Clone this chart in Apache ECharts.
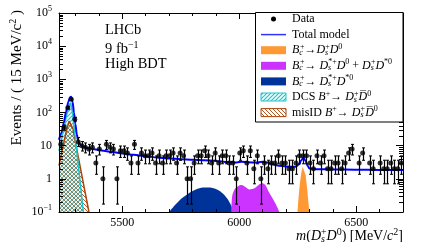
<!DOCTYPE html>
<html><head><meta charset="utf-8">
<script src="https://cdn.jsdelivr.net/npm/echarts@6/dist/echarts.min.js"></script>
<style>html,body{margin:0;padding:0;background:#fff}#c{width:425px;height:242px}</style>
</head><body><div id="c"></div>
<script>
// ---------- data ----------
const binCenters = [5237.5,5252.5,5267.5,5282.5,5297.5,5312.5,5327.5,5342.5,5357.5,5372.5,
5387.5,5402.5,5417.5,5432.5,5447.5,5462.5,5477.5,5492.5,5507.5,5522.5,
5537.5,5552.5,5567.5,5582.5,5597.5,5612.5,5627.5,5642.5,5657.5,5672.5,
5687.5,5702.5,5717.5,5732.5,5747.5,5762.5,5777.5,5792.5,5807.5,5822.5,
5837.5,5852.5,5867.5,5882.5,5897.5,5912.5,5927.5,5942.5,5957.5,5972.5,
5987.5,6002.5,6017.5,6032.5,6047.5,6062.5,6077.5,6092.5,6107.5,6122.5,
6137.5,6152.5,6167.5,6182.5,6197.5,6212.5,6227.5,6242.5,6257.5,6272.5,
6287.5,6302.5,6317.5,6332.5,6347.5,6362.5,6377.5,6392.5,6407.5,6422.5,
6437.5,6452.5,6467.5,6482.5,6497.5,6512.5,6527.5,6542.5,6557.5,6572.5,
6587.5,6602.5,6617.5,6632.5,6647.5,6662.5,6677.5,6692.5];
const counts = [11,35,140,250,63,13,10,9,8,9,
 3,8,1,11,9,8,1,7,7,6,
 3,11,3,6,5,5,6,3,5,3,
 5,5,6,3,6,5,1,1,3,5,
 5,7,5,3,6,3,5,5,3,3,
 1,6,7,3,7,2,5,1,3,2,
 3,3,5,3,3,2,2,3,5,5,
 5,3,2,5,3,5,2,2,3,3,
 2,3,6,8,0,3,6,0,3,2,
 0,3,2,2,3,2,2,3];
// Poisson 68% interval bounds for small counts
const poissonLo = [0,0.173,0.708,1.37,2.09,2.84,3.62,4.42,5.23,6.06,6.89,7.73,8.58];
const poissonHi = [1.15,2.30,3.64,4.91,6.17,7.38,8.58,9.77,10.94,12.1,13.3,14.4,15.6];

const totalModel = [[5230,15],[5240,24],[5250,48],[5260,105],[5270,210],[5277,290],[5282,300],[5288,210],[5294,100],[5300,45],[5306,22],[5312,14],[5320,11],[5330,9.5],[5350,8.5],[5380,7.8],[5420,7.0],[5460,6.4],[5500,5.8],[5550,5.3],[5600,4.8],[5650,4.4],[5700,4.1],[5750,3.9],[5800,3.75],[5850,3.65],[5900,3.45],[5950,3.2],[5990,3.1],[6010,3.3],[6040,3.15],[6070,3.1],[6100,3.25],[6120,3.1],[6140,2.75],[6170,2.5],[6200,2.35],[6240,2.3],[6255,2.7],[6265,3.6],[6274,4.3],[6283,3.6],[6292,2.5],[6300,2.05],[6330,1.95],[6400,1.92],[6500,1.88],[6600,1.86],[6700,1.85]];
const dsstDst = [[5700,0.1],[5725,0.16],[5755,0.26],[5785,0.37],[5815,0.48],[5845,0.55],[5875,0.55],[5905,0.48],[5930,0.36],[5955,0.22],[5978,0.1]];
const dsstD = [[5966,0.1],[5970,0.3],[5980,0.48],[5995,0.6],[6010,0.65],[6025,0.58],[6045,0.48],[6065,0.52],[6085,0.68],[6100,0.74],[6112,0.65],[6125,0.42],[6140,0.28],[6155,0.18],[6172,0.1]];
const dsD = [[6249,0.1],[6254,0.3],[6260,0.8],[6266,1.6],[6271,2.3],[6275,2.4],[6279,2.1],[6284,1.3],[6290,0.55],[6295,0.22],[6300,0.1]];
const dcs = [[5230,7],[5245,22],[5260,70],[5272,160],[5280,200],[5287,105],[5295,35],[5305,8],[5315,1.8],[5325,0.4],[5334,0.1]];
const misid = [[5230,2.5],[5245,8],[5260,25],[5273,55],[5281,62],[5290,32],[5300,13],[5320,2.4],[5340,0.45],[5358,0.1]];

const xMajorTicks = [5500,6000,6500];
const xMinorTicks = [5300,5400,5600,5700,5800,5900,6100,6200,6300,6400,6600,6700];
const yDecades = [0.1,1,10,100,1000,10000,100000];
const yMinorMult = [2,3,4,5,6,7,8,9];

// ---------- helpers ----------
const F = "'Liberation Serif','Times New Roman',serif";
function hatch(color, dir, w) {
  const c = document.createElement('canvas'); c.width = 4; c.height = 4;
  const g = c.getContext('2d'); g.strokeStyle = color; g.lineWidth = w;
  g.beginPath();
  if (dir > 0) { g.moveTo(-1,5); g.lineTo(5,-1); g.moveTo(-3,3); g.lineTo(3,-3); g.moveTo(1,7); g.lineTo(7,1); }
  else { g.moveTo(-1,-1); g.lineTo(5,5); g.moveTo(-3,1); g.lineTo(3,7); g.moveTo(1,-3); g.lineTo(7,3); }
  g.stroke(); return c;
}
const cyan = '#1cc6cc', brown = '#a8440c';
const cyanPat = {image: hatch(cyan, 1, 1.2), repeat: 'repeat'};
const brownPat = {image: hatch(brown, -1, 0.9), repeat: 'repeat'};

const points = [], bars = [];
binCenters.forEach((m, i) => {
  const n = counts[i];
  if (n <= 0) return;
  points.push([m, n]);
  const lo = n < poissonLo.length ? poissonLo[n] : n - Math.sqrt(n);
  const hi = n < poissonHi.length ? poissonHi[n] : n + Math.sqrt(n) + 1;
  bars.push([m, lo, hi]);
});
const yMinor = [];
yDecades.slice(0, -1).forEach(d => yMinorMult.forEach(k => yMinor.push([5230, d * k])));

const rich = {
  n: {fontFamily: F, fontSize: 12, color: '#000'},
  i: {fontFamily: F, fontSize: 12, fontStyle: 'italic', color: '#000'},
  sb: {fontFamily: F, fontSize: 8, fontStyle: 'italic', color: '#000', padding: [5, -3, 0, 0]},
  sp: {fontFamily: F, fontSize: 8, color: '#000', padding: [0, 0, 7, 0]}
};
const richBig = {
  n: {fontFamily: F, fontSize: 14, color: '#000'},
  i: {fontFamily: F, fontSize: 14, fontStyle: 'italic', color: '#000'},
  sb: {fontFamily: F, fontSize: 10, fontStyle: 'italic', color: '#000', padding: [6, -4, 0, 0]},
  sp: {fontFamily: F, fontSize: 10, color: '#000', padding: [0, 0, 8, 0]}
};
const richY = {
  n: {fontFamily: F, fontSize: 15, color: '#000'},
  sp: {fontFamily: F, fontSize: 10, color: '#000', padding: [0, 0, 8, 0]}
};

const legendRows = [19, 34.6, 50.2, 65.8, 81.4, 97, 112.6];
const legendTexts = [
  '{n|Data}',
  '{n|Total model}',
  '{i|B}{sb|c}{sp|+}{n|→}{i|D}{sb|s}{sp|+}{i|D}{sp|0}',
  '{i|B}{sb|c}{sp|+}{n|→ }{i|D}{sb|s}{sp|*+}{i|D}{sp|0}{n| + }{i|D}{sb|s}{sp|+}{i|D}{sp|*0}',
  '{i|B}{sb|c}{sp|+}{n|→ }{i|D}{sb|s}{sp|*+}{i|D}{sp|*0}',
  '{n|DCS }{i|B}{sp|+}{n|→ }{i|D}{sb|s}{sp|+}{i|D\u0305}{sp|0}',
  '{n|misID }{i|B}{sp|+}{n|→ }{i|D}{sb|s}{sp|+}{i|D\u0305}{sp|0}'
];
const swatches = [null, null, {fill: '#ff9933'}, {fill: '#cc33ff'}, {fill: '#003399'},
  {fill: cyanPat, stroke: cyan}, {fill: brownPat, stroke: brown}];

const graphics = [
  {type: 'rect', shape: {x: 255.5, y: 12.5, width: 147.5, height: 109.5}, style: {fill: '#fff', stroke: '#000', lineWidth: 1}, z: 20},
  {type: 'circle', shape: {cx: 273.5, cy: legendRows[0], r: 2.5}, style: {fill: '#000'}, z: 21},
  {type: 'line', shape: {x1: 261, y1: legendRows[1], x2: 286, y2: legendRows[1]}, style: {stroke: '#3333ff', lineWidth: 1.5}, z: 21},
  {type: 'text', left: 105, top: 23, style: {text: 'LHCb', fontFamily: F, fontSize: 14.5, fill: '#000'}, z: 21},
  {type: 'text', left: 105, top: 40, style: {text: '{a|9 fb}{s|−1}', rich: {a: {fontFamily: F, fontSize: 14.5, color: '#000'}, s: {fontFamily: F, fontSize: 10, color: '#000', padding: [0, 0, 9, 0]}}}, z: 21},
  {type: 'text', left: 105, top: 57, style: {text: 'High BDT', fontFamily: F, fontSize: 14.5, fill: '#000'}, z: 21},
  {type: 'text', x: 403, y: 236, style: {text: '{i|m}{n|(}{i|D}{sb|s}{sp|+}{i|D}{sp|0}{n|) [MeV/}{i|c}{sp|2}{n|]}', rich: richBig, align: 'right', verticalAlign: 'middle'}, z: 21},
  {type: 'text', x: 17, y: 10, rotation: Math.PI / 2, style: {text: '{n|Events / ( 15 MeV/c}{sp|2}{n| )}', rich: richY, align: 'right', verticalAlign: 'middle'}, z: 21}
];
legendRows.forEach((y, i) => {
  const sw = swatches[i];
  if (sw) graphics.push({type: 'rect', shape: {x: 261, y: y - 4, width: 25, height: 8},
    style: {fill: sw.fill, stroke: sw.stroke || null, lineWidth: 1}, z: 21});
  graphics.push({type: 'text', x: 292, y: y, style: {text: legendTexts[i], rich: rich, verticalAlign: 'middle', align: 'left'}, z: 21});
});

const axisBase = {type: 'value', min: 5230, max: 6700, splitLine: {show: false}, z: 10};
const yBase = {type: 'log', logBase: 10, min: 0.1, max: 100000, splitNumber: 6, splitLine: {show: false}, z: 10};

const option = {
  animation: false,
  backgroundColor: '#fff',
  grid: {left: 59, right: 22, top: 13, bottom: 30, containLabel: false},
  xAxis: [
    Object.assign({}, axisBase, {position: 'bottom', axisLine: {lineStyle: {color: '#000', width: 1}},
      axisTick: {inside: true, length: 6, customValues: xMajorTicks, lineStyle: {color: '#000'}},
      axisLabel: {customValues: xMajorTicks, fontFamily: F, fontSize: 12, color: '#000', margin: 5, formatter: v => String(v)}}),
    Object.assign({}, axisBase, {position: 'bottom', axisLine: {show: false},
      axisTick: {inside: true, length: 3, customValues: xMinorTicks, lineStyle: {color: '#000'}}, axisLabel: {show: false}}),
    Object.assign({}, axisBase, {position: 'top', axisLine: {lineStyle: {color: '#000', width: 1}},
      axisTick: {inside: true, length: 6, customValues: xMajorTicks, lineStyle: {color: '#000'}}, axisLabel: {show: false}}),
    Object.assign({}, axisBase, {position: 'top', axisLine: {show: false},
      axisTick: {inside: true, length: 3, customValues: xMinorTicks, lineStyle: {color: '#000'}}, axisLabel: {show: false}})
  ],
  yAxis: [
    Object.assign({}, yBase, {position: 'left', axisLine: {show: true, lineStyle: {color: '#000', width: 1}},
      axisTick: {show: true, inside: true, length: 7, lineStyle: {color: '#000'}},
      axisLabel: {show: true, margin: 7, showMinLabel: true, showMaxLabel: true,
        formatter: v => { const e = Math.round(Math.log10(v)); if (e === 0) return '{a|1}'; if (e === 1) return '{a|10}'; return '{a|10}{b|' + (e < 0 ? '−' + (-e) : e) + '}'; },
        rich: {a: {fontFamily: F, fontSize: 12, color: '#000'}, b: {fontFamily: F, fontSize: 8, color: '#000', padding: [0, 0, 8, 0]}}}}),
    Object.assign({}, yBase, {position: 'right', axisLine: {show: true, lineStyle: {color: '#000', width: 1}},
      axisTick: {show: true, inside: true, length: 7, lineStyle: {color: '#000'}}, axisLabel: {show: false}})
  ],
  graphic: graphics,
  series: [
    {type: 'custom', name: 'yminor', data: yMinor, clip: false, z: 9, silent: true,
      renderItem: (params, api) => {
        const cs = params.coordSys;
        const y = Math.round(api.coord([api.value(0), api.value(1)])[1]) + 0.5;
        return {type: 'group', children: [
          {type: 'line', shape: {x1: cs.x, y1: y, x2: cs.x + 4, y2: y}, style: {stroke: '#000', lineWidth: 1}},
          {type: 'line', shape: {x1: cs.x + cs.width - 4, y1: y, x2: cs.x + cs.width, y2: y}, style: {stroke: '#000', lineWidth: 1}}
        ]};
      }},
    {type: 'line', name: 'DsstDst', data: dsstDst, symbol: 'none', smooth: 0.3, lineStyle: {width: 0}, areaStyle: {color: '#003399', opacity: 1, origin: 'start'}, z: 2},
    {type: 'line', name: 'DsstD', data: dsstD, symbol: 'none', smooth: 0.3, lineStyle: {width: 0}, areaStyle: {color: '#cc33ff', opacity: 1, origin: 'start'}, z: 2},
    {type: 'line', name: 'DsD', data: dsD, symbol: 'none', lineStyle: {width: 0}, areaStyle: {color: '#ff9933', opacity: 1, origin: 'start'}, z: 2},
    {type: 'line', name: 'misID', data: misid, symbol: 'none', lineStyle: {color: brown, width: 1.5}, areaStyle: {color: brownPat, opacity: 1, origin: 'start'}, z: 3},
    {type: 'line', name: 'DCS', data: dcs, symbol: 'none', lineStyle: {color: cyan, width: 1.5}, areaStyle: {color: cyanPat, opacity: 1, origin: 'start'}, z: 3},
    {type: 'line', name: 'Total', data: totalModel, symbol: 'none', smooth: 0.25, smoothMonotone: 'x', lineStyle: {color: '#0000ff', width: 2}, z: 4},
    {type: 'custom', name: 'errors', data: bars, clip: true, z: 5,
      renderItem: (params, api) => {
        const top = api.coord([api.value(0), api.value(2)]);
        const bot = api.coord([api.value(0), api.value(1)]);
        const x = Math.round(top[0]) + 0.5;
        return {type: 'group', children: [
          {type: 'line', shape: {x1: x, y1: top[1], x2: x, y2: bot[1]}, style: {stroke: '#000', lineWidth: 1.2}},
          {type: 'line', shape: {x1: x - 1.5, y1: top[1], x2: x + 1.5, y2: top[1]}, style: {stroke: '#000', lineWidth: 1}},
          {type: 'line', shape: {x1: x - 1.5, y1: bot[1], x2: x + 1.5, y2: bot[1]}, style: {stroke: '#000', lineWidth: 1}}
        ]};
      }},
    {type: 'scatter', name: 'Data', data: points, symbol: 'circle', symbolSize: 5, itemStyle: {color: '#000'}, z: 6}
  ]
};
const chart = echarts.init(document.getElementById('c'), null, {renderer: 'canvas'});
chart.setOption(option);
</script></body></html>
